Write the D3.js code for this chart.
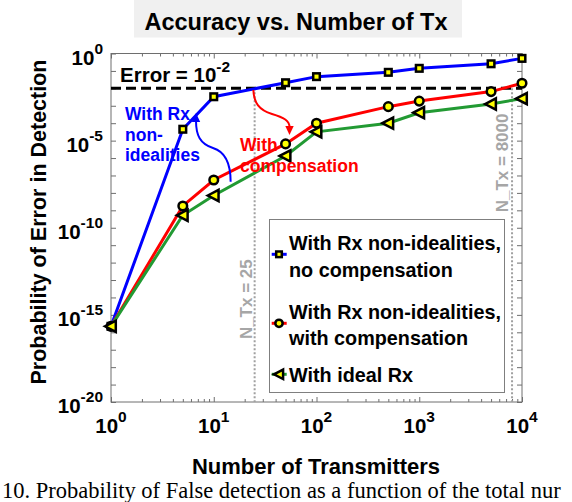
<!DOCTYPE html>
<html><head><meta charset="utf-8">
<script src="https://cdn.jsdelivr.net/npm/d3@7"></script>
<style>html,body{margin:0;padding:0;background:#fff;} svg{display:block;}</style>
</head><body>
<svg id="chart" width="572" height="502"></svg>
<script>
// ---------------- data ----------------
const nTx = [1, 5, 10, 50, 100, 500, 1000, 5000, 10000];
const noComp   = [2.2e-16, 4.5e-5, 3.3e-3, 2.1e-2, 4.7e-2, 8.3e-2, 1.41e-1, 2.57e-1, 5.25e-1];
const withComp = [2.2e-16, 1.78e-9, 5.5e-8, 6.5e-6, 1.0e-4, 8.9e-4, 1.86e-3, 6.5e-3, 1.95e-2];
const idealRx  = [2.2e-16, 5.2e-10, 7.1e-9, 1.32e-6, 3.2e-5, 1.0e-4, 4.0e-4, 1.26e-3, 2.57e-3];
const seriesLabels = [
  ["With Rx non-idealities,", "no compensation"],
  ["With Rx non-idealities,", "with compensation"],
  ["With ideal Rx"]
];
const xTickExps = [0, 1, 2, 3, 4];
const yTickExps = [0, -5, -10, -15, -20];
const errorLevel = 1e-2;
const refLines = [25, 8000];
const titleText = "Accuracy vs. Number of Tx";
const xLabel = "Number of Transmitters";
const yLabel = "Probability of Error in Detection";
const caption = "10. Probability of False detection as a function of the total nur";

// ---------------- layout ----------------
const svg = d3.select("#chart");
const L = 111, R = 522, T = 53.5, B = 402;
const x = d3.scaleLog().domain([1, 1e4]).range([L, R]);
const y = d3.scaleLog().domain([1e-20, 1]).range([B, T]);
const ye = e => y(Math.pow(10, e));
const FONT = "'Liberation Sans', Arial, Helvetica, sans-serif";
const colors = ["#0000ff", "#ff0000", "#229a33"];
const shapes = ["square", "circle", "triangle"];

// title
svg.append("rect").attr("x", 134).attr("y", 0).attr("width", 328).attr("height", 37.5).attr("fill", "#f0f0f0");
svg.append("text").attr("x", 296).attr("y", 30).attr("text-anchor", "middle")
  .attr("font-family", FONT).attr("font-weight", "bold").attr("font-size", 23.5).text(titleText);

// axes ticks
const decadesX = d3.range(0, 5).map(e => Math.pow(10, e));
const minorX = [];
for (let e = 0; e < 4; e++) for (let m = 2; m <= 9; m++) minorX.push(m * Math.pow(10, e));
const decadesY = d3.range(-20, 1).map(e => Math.pow(10, e));

function styleAxis(g) {
  g.select(".domain").remove();
  g.selectAll("line").attr("stroke", "#6e6e6e").attr("stroke-width", 1);
  g.selectAll("text").remove();
}
svg.append("g").attr("transform", `translate(0,${B})`).call(d3.axisBottom(x).tickValues(decadesX).tickSize(-5)).call(styleAxis);
svg.append("g").attr("transform", `translate(0,${B})`).call(d3.axisBottom(x).tickValues(minorX).tickSize(-3)).call(styleAxis);
svg.append("g").attr("transform", `translate(0,${T})`).call(d3.axisTop(x).tickValues(decadesX).tickSize(-5)).call(styleAxis);
svg.append("g").attr("transform", `translate(0,${T})`).call(d3.axisTop(x).tickValues(minorX).tickSize(-3)).call(styleAxis);
svg.append("g").attr("transform", `translate(${L},0)`).call(d3.axisLeft(y).tickValues(decadesY).tickSize(-5)).call(styleAxis);
svg.append("g").attr("transform", `translate(${R},0)`).call(d3.axisRight(y).tickValues(decadesY).tickSize(-5)).call(styleAxis);
svg.append("rect").attr("x", L).attr("y", T).attr("width", R - L).attr("height", B - T)
  .attr("fill", "none").attr("stroke", "#6e6e6e").attr("stroke-width", 1);

// tick labels with superscripts
function powLabel(sel, exp, baseSize, supSize, rise) {
  sel.attr("font-family", FONT).attr("font-weight", "bold").attr("font-size", baseSize).attr("fill", "#000");
  sel.append("tspan").text("10");
  sel.append("tspan").attr("font-size", supSize).attr("dy", -rise).text(String(exp));
}
xTickExps.forEach(e => {
  svg.append("text").attr("x", x(Math.pow(10, e))).attr("y", 433).attr("text-anchor", "middle")
    .call(s => powLabel(s, e, 20.5, 15.5, 11));
});
yTickExps.forEach(e => {
  svg.append("text").attr("x", 103).attr("y", ye(e) + 11).attr("text-anchor", "end")
    .call(s => powLabel(s, e, 20.5, 15.5, 11));
});

// axis labels
svg.append("text").attr("x", 316).attr("y", 474).attr("text-anchor", "middle")
  .attr("font-family", FONT).attr("font-weight", "bold").attr("font-size", 22).text(xLabel);
svg.append("text").attr("transform", "translate(45.5,222) rotate(-90)").attr("text-anchor", "middle")
  .attr("font-family", FONT).attr("font-weight", "bold").attr("font-size", 21.5).text(yLabel);

// reference lines
refLines.forEach(v => {
  svg.append("line").attr("x1", x(v)).attr("x2", x(v)).attr("y1", y(errorLevel)).attr("y2", y(1e-20))
    .attr("stroke", "#a0a0a0").attr("stroke-width", 2).attr("stroke-dasharray", "2,2");
});
svg.append("text").attr("transform", `translate(${x(refLines[0]) - 3},${ye(-14.1)}) rotate(-90)`)
  .attr("text-anchor", "middle").attr("font-family", FONT).attr("font-weight", "bold")
  .attr("font-size", 17).attr("fill", "#a6a6a6").text("N_Tx = " + refLines[0]);
svg.append("text").attr("transform", `translate(${x(refLines[1]) - 4.5},${ye(-6.28)}) rotate(-90)`)
  .attr("text-anchor", "middle").attr("font-family", FONT).attr("font-weight", "bold")
  .attr("font-size", 17).attr("fill", "#a6a6a6").text("N_Tx = " + refLines[1]);

svg.append("line").attr("x1", x(1)).attr("x2", x(1e4)).attr("y1", y(errorLevel)).attr("y2", y(errorLevel))
  .attr("stroke", "#000").attr("stroke-width", 3).attr("stroke-dasharray", "10,5");

// series
const series = [noComp, withComp, idealRx];
const line = d3.line().x(d => x(d[0])).y(d => y(d[1]));
function drawMarker(g, shape, scale) {
  const s = scale || 1;
  if (shape === "square") {
    g.append("rect").attr("x", -3.3 * s).attr("y", -3.3 * s).attr("width", 6.6 * s).attr("height", 6.6 * s)
      .attr("fill", "#ffff00").attr("stroke", "#000").attr("stroke-width", 2.5);
  } else if (shape === "circle") {
    g.append("circle").attr("r", 4.3 * s).attr("fill", "#ffff00").attr("stroke", "#000").attr("stroke-width", 2.5);
  } else {
    g.append("path").attr("d", `M${-6 * s},0L${4.8 * s},${-5.6 * s}L${4.8 * s},${5.6 * s}Z`)
      .attr("fill", "#ffff00").attr("stroke", "#000").attr("stroke-width", 2.5).attr("stroke-linejoin", "miter");
  }
}
series.forEach((vals, i) => {
  const pts = nTx.map((n, k) => [n, vals[k]]);
  svg.append("path").attr("d", line(pts)).attr("fill", "none").attr("stroke", colors[i]).attr("stroke-width", 3);
  pts.forEach(p => {
    const g = svg.append("g").attr("transform", `translate(${x(p[0])},${y(p[1])})`);
    drawMarker(g, shapes[i]);
  });
});

// annotations (anchors in data space: [N_Tx, log10 probability])
function arrowPath(pts, tip, color) {
  const P = pts.map(p => [x(p[0]), ye(p[1])]);
  const d = `M${P[0]}C${P[1]} ${P[2]} ${P[3]}C${P[4]} ${P[5]} ${P[6]}`;
  svg.append("path").attr("d", d).attr("fill", "none").attr("stroke", color).attr("stroke-width", 2);
  const E = P[6], Tp = [x(tip[0]), ye(tip[1])];
  const ang = Math.atan2(Tp[1] - E[1], Tp[0] - E[0]);
  const len = 9, hw = 4.2;
  const bx = Tp[0] - len * Math.cos(ang), by = Tp[1] - len * Math.sin(ang);
  const nx = -Math.sin(ang) * hw, ny = Math.cos(ang) * hw;
  svg.append("path").attr("d", `M${Tp[0]},${Tp[1]}L${bx + nx},${by + ny}L${bx - nx},${by - ny}Z`).attr("fill", color);
}
const blueArrow = [[14.6, -7.355], [14.6, -6.4], [13.2, -5.65], [9.83, -5.42], [7.35, -5.19], [6.72, -4.68], [6.72, -3.87]];
const blueTip = [6.72, -3.41];
const redArrow = [[24.3, -2.094], [24.6, -2.84], [27.6, -3.242], [36.9, -3.471], [48.3, -3.672], [54.6, -3.873], [54.6, -4.217]];
const redTip = [54.6, -4.676];
arrowPath(blueArrow, blueTip, colors[0]);
arrowPath(redArrow, redTip, colors[1]);

const rxText = ["With Rx", "non-", "idealities"];
const rxAnchor = [1.369, [-3.815, -5.02, -6.17]];
rxText.forEach((t, i) => {
  svg.append("text").attr("x", x(rxAnchor[0])).attr("y", ye(rxAnchor[1][i]))
    .attr("font-family", FONT).attr("font-weight", "bold").attr("font-size", 17.5).attr("fill", colors[0]).text(t);
});
const compText = ["With", "compensation"];
const compAnchor = [18.0, [-5.577, -6.781]];
compText.forEach((t, i) => {
  svg.append("text").attr("x", x(compAnchor[0])).attr("y", ye(compAnchor[1][i]))
    .attr("font-family", FONT).attr("font-weight", "bold").attr("font-size", 17.5).attr("fill", colors[1]).text(t);
});
const errText = svg.append("text").attr("x", x(1.224)).attr("y", ye(-1.618))
  .attr("font-family", FONT).attr("font-weight", "bold").attr("font-size", 20.5);
errText.append("tspan").text("Error = 10");
errText.append("tspan").attr("font-size", 15.5).attr("dy", -10).text("-2");

// legend
const lg = svg.append("g");
lg.append("rect").attr("x", 269.5).attr("y", 219.5).attr("width", 235).attr("height", 173)
  .attr("fill", "#fff").attr("stroke", "#7f7f7f").attr("stroke-width", 1);
const legMarkY = [254.3, 323.3, 374.3];
const legTextY = [[250, 276.5], [318.5, 344.5], [382]];
seriesLabels.forEach((lines, i) => {
  lg.append("line").attr("x1", 271.7).attr("x2", 286.7).attr("y1", legMarkY[i]).attr("y2", legMarkY[i])
    .attr("stroke", colors[i]).attr("stroke-width", 3);
  const g = lg.append("g").attr("transform", `translate(279,${legMarkY[i]})`);
  drawMarker(g, shapes[i], 0.85);
  lines.forEach((t, j) => {
    lg.append("text").attr("x", 289).attr("y", legTextY[i][j])
      .attr("font-family", FONT).attr("font-weight", "bold").attr("font-size", 19.8).text(t);
  });
});

// caption
svg.append("text").attr("x", 2).attr("y", 497.5)
  .attr("font-family", "'Liberation Serif', 'Times New Roman', serif").attr("font-size", 22.5).text(caption);
</script>
</body></html>
